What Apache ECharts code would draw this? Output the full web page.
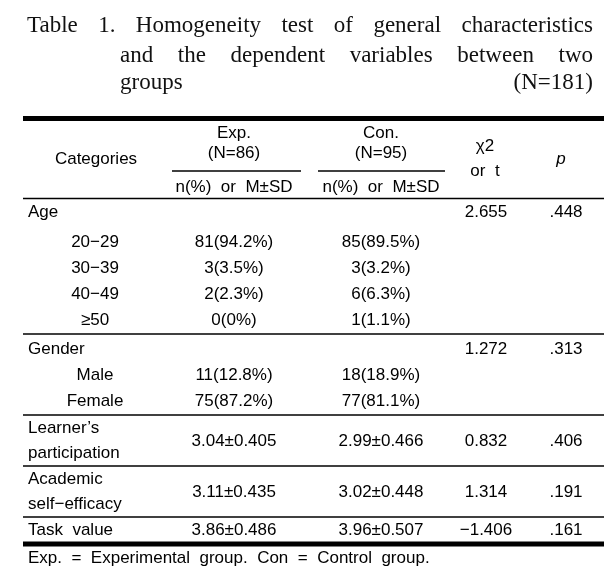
<!DOCTYPE html>
<html><head><meta charset="utf-8">
<script src="https://cdn.jsdelivr.net/npm/echarts@6/dist/echarts.min.js"></script>
<style>html,body{margin:0;padding:0;background:#fff}#c{width:606px;height:581px}</style>
</head><body><div id="c"></div>
<script>
// ---------- data ----------
const titleLines = [
  ["Table", "1.", "Homogeneity", "test", "of", "general", "characteristics"],
  ["and", "the", "dependent", "variables", "between", "two"],
  ["groups", "(N=181)"]
];
const headCategories = "Categories";
const groupNames = ["Exp.", "Con."];
const groupNs = ["(N=86)", "(N=95)"];
const groupSub = "n(%)  or  M±SD";
const statHead = ["χ2", "or  t"];
const pHead = "p";
const rowLabels = ["Age", "20−29", "30−39", "40−49", "≥50", "Gender", "Male", "Female",
  "Learner’s\nparticipation", "Academic\nself−efficacy", "Task  value"];
const rowIsSub = [false, true, true, true, true, false, true, true, false, false, false];
const expValues = ["", "81(94.2%)", "3(3.5%)", "2(2.3%)", "0(0%)", "", "11(12.8%)", "75(87.2%)",
  "3.04±0.405", "3.11±0.435", "3.86±0.486"];
const conValues = ["", "85(89.5%)", "3(3.2%)", "6(6.3%)", "1(1.1%)", "", "18(18.9%)", "77(81.1%)",
  "2.99±0.466", "3.02±0.448", "3.96±0.507"];
const statValues = ["2.655", "", "", "", "", "1.272", "", "", "0.832", "1.314", "−1.406"];
const pValues = [".448", "", "", "", "", ".313", "", "", ".406", ".191", ".161"];
const footnote = "Exp.  =  Experimental  group.  Con  =  Control  group.";

// ---------- layout ----------
const W = 606, H = 581;
const BODY_FONT = '17px "Liberation Sans", Arial, sans-serif';
const TITLE_FONT = '23px "Liberation Serif", "Times New Roman", serif';
const colX = { label: 28, sub: 95, exp: 234, con: 381, stat: 486, p: 566 };
const rowY = [212, 242, 268, 294, 320, 349, 375, 401, 441, 492, 530];
const titleY = [26, 56, 83];
const titleStart = [27, 120, 120];
const titleEnd = 593;

const measureCtx = document.createElement('canvas').getContext('2d');
function textWidth(t, font) { measureCtx.font = font; return measureCtx.measureText(t).width; }

const texts = [];
function addText(x, y, text, align, font, extra) {
  if (!text) return;
  texts.push(Object.assign({ x, y, text, align, font: font || BODY_FONT }, extra || {}));
}
// title (justified)
titleLines.forEach((words, li) => {
  const x0 = titleStart[li], x1 = titleEnd;
  const widths = words.map(w => textWidth(w, TITLE_FONT));
  const total = widths.reduce((a, b) => a + b, 0);
  const gap = words.length > 1 ? (x1 - x0 - total) / (words.length - 1) : 0;
  let x = x0;
  words.forEach((w, i) => {
    addText(x, titleY[li], w, 'left', TITLE_FONT, { color: '#111' });
    x += widths[i] + gap;
  });
});
// header
addText(96, 159, headCategories, 'center');
addText(colX.exp, 133, groupNames[0], 'center');
addText(colX.con, 133, groupNames[1], 'center');
addText(colX.exp, 153, groupNs[0], 'center');
addText(colX.con, 153, groupNs[1], 'center');
addText(colX.exp, 187, groupSub, 'center');
addText(colX.con, 187, groupSub, 'center');
addText(485, 146, statHead[0], 'center');
addText(485, 171, statHead[1], 'center');
addText(561, 159, pHead, 'center', 'italic 17px "Liberation Sans", Arial, sans-serif');
// body
rowLabels.forEach((lab, i) => {
  if (rowIsSub[i]) addText(colX.sub, rowY[i], lab, 'center');
  else addText(colX.label, rowY[i], lab, 'left', BODY_FONT, { lineHeight: 25 });
  addText(colX.exp, rowY[i], expValues[i], 'center');
  addText(colX.con, rowY[i], conValues[i], 'center');
  addText(colX.stat, rowY[i], statValues[i], 'center');
  addText(colX.p, rowY[i], pValues[i], 'center');
});
addText(colX.label, 558, footnote, 'left');

const rules = [
  { x1: 23, x2: 604, y: 118.5, w: 5 },
  { x1: 172, x2: 301, y: 171, w: 1.5 },
  { x1: 318, x2: 445, y: 171, w: 1.5 },
  { x1: 23, x2: 604, y: 198.5, w: 1.5 },
  { x1: 23, x2: 604, y: 334, w: 1.5 },
  { x1: 23, x2: 604, y: 415, w: 1.5 },
  { x1: 23, x2: 604, y: 466, w: 1.5 },
  { x1: 23, x2: 604, y: 517, w: 1.5 },
  { x1: 23, x2: 604, y: 544, w: 5 }
];

const chart = echarts.init(document.getElementById('c'), null, { renderer: 'canvas' });
chart.setOption({
  backgroundColor: '#fff',
  animation: false,
  grid: { left: 0, right: 0, top: 0, bottom: 0 },
  xAxis: { type: 'value', min: 0, max: W, show: false },
  yAxis: { type: 'value', min: 0, max: H, inverse: true, show: false },
  series: [
    {
      type: 'custom', name: 'rules', silent: true,
      data: rules.map(r => [r.x1, r.y, r.x2, r.w]),
      renderItem: (params, api) => {
        const p1 = api.coord([api.value(0), api.value(1)]);
        const p2 = api.coord([api.value(2), api.value(1)]);
        return { type: 'line', shape: { x1: p1[0], y1: p1[1], x2: p2[0], y2: p2[1] },
          style: { stroke: '#000', lineWidth: api.value(3) } };
      }
    },
    {
      type: 'custom', name: 'cells', silent: true,
      data: texts.map((t, i) => [t.x, t.y, i]),
      renderItem: (params, api) => {
        const t = texts[api.value(2)];
        const p = api.coord([api.value(0), api.value(1)]);
        return { type: 'text', x: p[0], y: p[1],
          style: { text: t.text, font: t.font, fill: t.color || '#000', align: t.align,
            verticalAlign: 'middle', lineHeight: t.lineHeight } };
      }
    }
  ]
});
</script></body></html>
